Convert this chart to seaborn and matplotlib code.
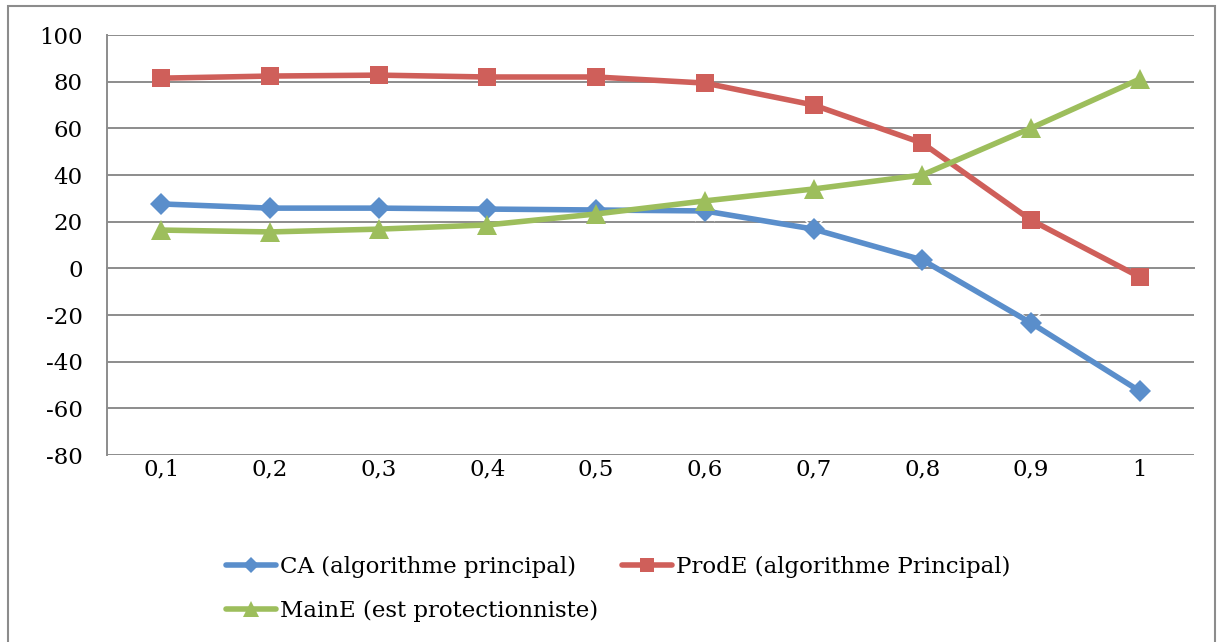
import pandas as pd
import matplotlib
matplotlib.use('Agg')
import matplotlib.pyplot as plt
from matplotlib.patches import Rectangle
from matplotlib.ticker import FixedLocator
import seaborn as sns

# --- data ---
x_labels = ['0,1', '0,2', '0,3', '0,4', '0,5', '0,6', '0,7', '0,8', '0,9', '1']
ca = [27.6, 25.8, 25.8, 25.4, 25.0, 24.6, 16.8, 3.6, -23.4, -52.6]
prode = [81.5, 82.4, 82.8, 82.0, 82.0, 79.4, 70.0, 53.7, 20.7, -3.7]
maine = [16.4, 15.6, 16.8, 18.6, 23.3, 28.9, 34.0, 40.0, 60.1, 81.1]

names = ['CA (algorithme principal)', 'ProdE (algorithme Principal)', 'MainE (est protectionniste)']

FS = 16.5
sns.set_style("white")
plt.rcParams['font.family'] = ['DejaVu Serif']
plt.rcParams['font.size'] = FS
plt.rcParams['axes.unicode_minus'] = False
plt.rcParams['text.color'] = 'black'
plt.rcParams['xtick.color'] = 'black'
plt.rcParams['ytick.color'] = 'black'

pos = list(range(len(x_labels)))
df = pd.DataFrame({'pos': pos, 'ca': ca, 'prode': prode, 'maine': maine})

fig = plt.figure(figsize=(12.23, 6.42), dpi=100)
ax = fig.add_axes([107 / 1223, 1 - 455 / 642, (1194 - 107) / 1223, (455 - 35) / 642])

grid_c = '#8c8c8c'
for v in range(-80, 101, 20):
    if v != 0:
        ax.axhline(v, color=grid_c, lw=1.4, zorder=0)

sns.lineplot(data=df, x='pos', y='ca', ax=ax, color='#5A8ECB', lw=4, marker='D',
             markersize=11, markeredgewidth=0, label=names[0], zorder=3)
sns.lineplot(data=df, x='pos', y='ca', ax=ax, color='#8A6BB0', lw=0, marker='x',
             markersize=15, markeredgewidth=1.1, legend=False, zorder=2)
sns.lineplot(data=df, x='pos', y='prode', ax=ax, color='#CF5F5A', lw=4, marker='s',
             markersize=13, markeredgewidth=0, label=names[1], zorder=3)
sns.lineplot(data=df, x='pos', y='maine', ax=ax, color='#9DBE5C', lw=4, marker='^',
             markersize=15, markeredgewidth=0, label=names[2], zorder=3)

ax.set_xlim(-0.5, len(x_labels) - 0.5)
ax.set_ylim(-80, 100)
ax.set_yticks(range(-80, 101, 20))
ax.set_xlabel('')
ax.set_ylabel('')

# category axis crosses at zero, labels at the bottom
ax.spines['bottom'].set_position(('data', 0))
for s in ['top', 'right']:
    ax.spines[s].set_visible(False)
for s in ['left', 'bottom']:
    ax.spines[s].set_color(grid_c)
    ax.spines[s].set_linewidth(1.4)

ax.set_xticks(pos)
ax.set_xticklabels(x_labels)
ax.xaxis.set_minor_locator(FixedLocator([p - 0.5 for p in pos] + [len(pos) - 0.5]))
ax.tick_params(axis='x', which='major', length=0, pad=137, labelsize=FS, labelcolor='black')
ax.tick_params(axis='x', which='minor', length=6, width=1.4, color=grid_c, direction='out')
ax.tick_params(axis='y', length=5.5, width=1.4, color=grid_c, direction='out', pad=12,
               labelsize=FS, labelcolor='black')

handles, labels = ax.get_legend_handles_labels()
order = [0, 2, 1]
leg = ax.legend([handles[i] for i in order], [labels[i] for i in order], ncol=2,
                loc='upper left', bbox_to_anchor=(226 / 1223, 1 - 556 / 642),
                bbox_transform=fig.transFigure, frameon=False, fontsize=FS,
                handlelength=2.2, handletextpad=0.15, columnspacing=1.05, labelspacing=0.95,
                markerscale=0.75, borderaxespad=0, borderpad=0)
for t in leg.get_texts():
    t.set_color('black')

fig.add_artist(Rectangle((8 / 1223, -0.05), (1215 - 8) / 1223, 1.05 - 6 / 642,
                         transform=fig.transFigure, fill=False, edgecolor='#8c8c8c', lw=1.5))

fig.savefig('out.png', dpi=100)
